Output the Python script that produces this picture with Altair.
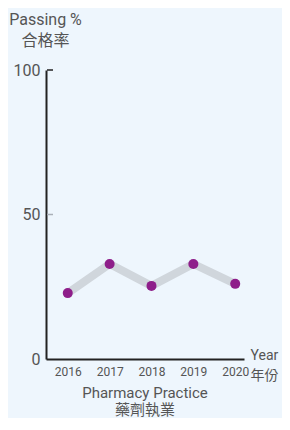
import altair as alt
import pandas as pd

years = [2016, 2017, 2018, 2019, 2020]
passing = [22.8, 32.9, 25.3, 32.9, 26.0]
y_ticks = [0, 50, 100]
inner_ticks = [50, 100]

FONT = "Roboto, 'Noto Sans CJK TC', sans-serif"
BG = "#eef6fd"
TXT = "#555555"

df = pd.DataFrame({"year": years, "pass": passing})
tdf = pd.DataFrame({"v": inner_ticks})

xs = alt.Scale(domain=[2015.48, 2020.21], nice=False, zero=False)
ys = alt.Scale(domain=[0, 100], nice=False)

base = alt.Chart(df)

line = base.mark_line(color="#d0d6dc", strokeWidth=8, strokeJoin="miter").encode(
    x=alt.X("year:Q", scale=xs,
            axis=alt.Axis(values=years, format="d", title=["Year", "年份"],
                          titleAngle=0, titleAlign="left", titleBaseline="top",
                          titleX=204, titleY=-11, titleFontSize=14,
                          titleFontWeight="normal", titleColor=TXT,
                          titleLineHeight=20,
                          labelFontSize=12, labelColor=TXT, labelPadding=7,
                          ticks=False, grid=False, domainColor="#222",
                          domainWidth=2, labelFont=FONT, titleFont=FONT)),
    y=alt.Y("pass:Q", scale=ys,
            axis=alt.Axis(values=y_ticks, title=["Passing %", "合格率"],
                          titleAngle=0, titleAlign="center", titleBaseline="top",
                          titleX=-1, titleY=-59, titleFontSize=16,
                          titleFontWeight="normal", titleColor=TXT,
                          titleLineHeight=21,
                          labelFontSize=16, labelColor=TXT, labelPadding=6,
                          ticks=False, grid=False, domainColor="#222",
                          domainWidth=2, labelFont=FONT, titleFont=FONT)),
)

pts = base.mark_circle(color="#8e1e8a", size=100, opacity=1).encode(
    x=alt.X("year:Q", scale=xs), y=alt.Y("pass:Q", scale=ys)
)

ticks = alt.Chart(tdf).mark_rule(strokeWidth=1.5).encode(
    x=alt.value(1), x2=alt.value(7),
    y=alt.Y("v:Q", scale=ys),
    color=alt.condition(alt.datum.v == 100, alt.value("#222"), alt.value("#aab0b8")),
)

chart = alt.layer(line, ticks, pts).properties(
    width=198, height=289,
    background=BG,
    padding={"left": 38, "top": 62, "right": 38, "bottom": 59},
    autosize=alt.AutoSizeParams(type="none"),
    title=alt.TitleParams(["Pharmacy Practice", "藥劑執業"], orient="bottom",
                          anchor="middle", fontSize=15, fontWeight="normal",
                          color=TXT, font=FONT, lineHeight=17, offset=4),
).configure_view(stroke=None)

chart.save("out.html", embed_options={"renderer": "svg", "actions": False})
